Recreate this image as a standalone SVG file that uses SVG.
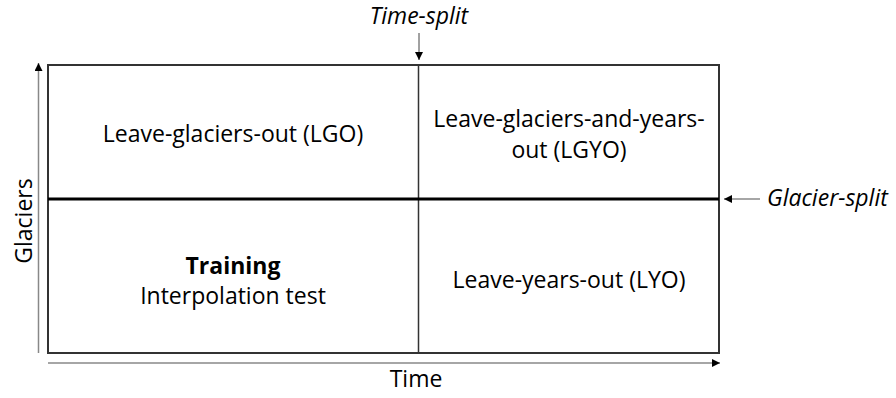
<svg xmlns="http://www.w3.org/2000/svg" width="896" height="398" viewBox="0 0 896 398">
<defs>
<style>
text{font-family:"Open Sans","Noto Sans","Liberation Sans",sans-serif;font-size:23px;fill:#000;text-anchor:middle}
.it{font-style:italic}
.b{font-weight:bold}
.axis{stroke:#888;stroke-width:1.5;fill:none}
.ptr{stroke:#444;stroke-width:1;fill:none}
</style>
<marker id="ah" viewBox="0 0 10 10" refX="10" refY="5" markerWidth="8" markerHeight="8" markerUnits="userSpaceOnUse" orient="auto"><path d="M0,0 L10,5 L0,10 z" fill="#000"/></marker>
</defs>
<rect width="896" height="398" fill="#fff"/>
<g id="grid">
<rect x="48" y="65" width="671" height="288" fill="none" stroke="#333" stroke-width="2"/>
<line x1="418.5" y1="65" x2="418.5" y2="353" stroke="#333" stroke-width="1.5"/>
<line x1="48" y1="199" x2="719" y2="199" stroke="#000" stroke-width="3"/>
</g>
<g id="connectors">
<line class="axis" x1="38.5" y1="353" x2="38.5" y2="63" marker-end="url(#ah)"/>
<line class="axis" x1="48" y1="363" x2="720" y2="363" marker-end="url(#ah)"/>
<line class="ptr" x1="419" y1="33" x2="419" y2="60" marker-end="url(#ah)"/>
<line class="axis" x1="760" y1="199" x2="724" y2="199" marker-end="url(#ah)"/>
</g>
<g id="lgo"><text x="233" y="142">Leave-glaciers-out (LGO)</text></g>
<g id="lgyo"><text x="569" y="127">Leave-glaciers-and-years-</text><text x="569" y="158">out (LGYO)</text></g>
<g id="training"><text x="233" y="274" class="b">Training</text><text x="233" y="304">Interpolation test</text></g>
<g id="lyo"><text x="569" y="288">Leave-years-out (LYO)</text></g>
<g id="time-split"><text x="419" y="24" class="it">Time-split</text></g>
<g id="glacier-split"><text x="767" y="206" class="it" style="text-anchor:start">Glacier-split</text></g>
<g id="time-label"><text x="416" y="387">Time</text></g>
<g id="glaciers-label"><text transform="translate(32,221) rotate(-90)">Glaciers</text></g>
</svg>
